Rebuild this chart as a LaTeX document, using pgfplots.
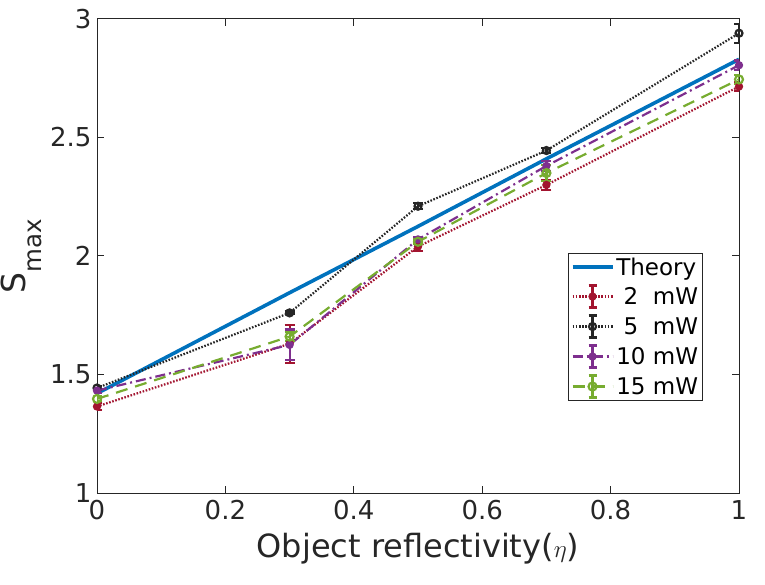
\documentclass[border=0pt]{standalone}
\usepackage{pgfplots}
\pgfplotsset{compat=1.18}
\usepackage{fontspec}
\setmainfont{DejaVu Sans}
\definecolor{cth}{RGB}{0,114,189}
\definecolor{cred}{RGB}{162,20,47}
\definecolor{cblk}{RGB}{38,38,38}
\definecolor{cpur}{RGB}{126,47,142}
\definecolor{cgrn}{RGB}{119,172,48}
\pgfplotsset{lineleg/.style={legend image code/.code={\draw[##1] (0pt,0pt)--(40pt,0pt);}}}
\begin{document}
\begin{tikzpicture}
\begin{axis}[
  at={(97pt,91pt)}, anchor=south west,
  scale only axis, width=642pt, height=474pt,
  xmin=0, xmax=1, ymin=1, ymax=3,
  xtick={0,0.2,...,1}, ytick={1,1.5,...,3},
  xticklabels={0,0.2,0.4,0.6,0.8,1},
  yticklabels={1,1.5,2,2.5,3},
  tick align=inside, tick pos=both,
  major tick length=7pt,
  axis line style={cblk, line width=1pt},
  every tick/.style={cblk, line width=1pt},
  /pgf/number format/assume math mode=true,
  tick label style={font=\fontsize{26}{30}\selectfont, text=cblk},
  xticklabel style={yshift=-4pt},
  yticklabel style={xshift=-2pt},
  xlabel={Object reflectivity($\eta$)},
  ylabel={S\raisebox{-16pt}{\fontsize{24.5}{26}\selectfont max}},
  xlabel style={font=\fontsize{32}{36}\selectfont, text=cblk, yshift=-6pt},
  ylabel style={font=\fontsize{33}{36}\selectfont, text=cblk, yshift=5pt, inner sep=0pt},
  error bars/error bar style={solid, line width=2.2pt},
  error bars/error mark options={solid, rotate=90, mark size=5pt, line width=2.2pt},
  legend style={at={(0.734,0.506)}, anchor=north west, draw=cblk, line width=1pt,
    font=\fontsize{23}{26}\selectfont, inner sep=2pt, row sep=5.8pt,
    legend cell align=left},
  legend image code/.code={
    \draw[mark repeat=2,mark phase=2,#1] plot coordinates {(0pt,0pt)(20pt,0pt)(40pt,0pt)};
    \draw[#1,solid,mark=none,line width=2.2pt] (20pt,-11pt)--(20pt,11pt) (16pt,-11pt)--(24pt,-11pt) (16pt,11pt)--(24pt,11pt);
  },
]
\addplot[cth, line width=3.6pt, lineleg] coordinates {(0,1.42)(0.3,1.845)(0.5,2.125)(0.7,2.41)(1,2.83)};
\addlegendentry{Theory}
\addplot[cred, line width=2.2pt, dash pattern=on 1.6pt off 1.6pt, mark=*, mark size=3pt, mark options={solid},
  error bars/.cd, y dir=both, y explicit] coordinates {
  (0,1.365) +- (0,0.015)
  (0.3,1.63) +- (0,0.08)
  (0.5,2.04) +- (0,0.02)
  (0.7,2.30) +- (0,0.02)
  (1,2.715) +- (0,0.02)};
\addlegendentry{\ 2\ \ mW}
\addplot[cblk, line width=2.2pt, dash pattern=on 1.6pt off 1.6pt, mark=o, mark size=3.5pt, mark options={solid},
  error bars/.cd, y dir=both, y explicit] coordinates {
  (0,1.443) +- (0,0.01)
  (0.3,1.76) +- (0,0.006)
  (0.5,2.21) +- (0,0.012)
  (0.7,2.445) +- (0,0.01)
  (1,2.94) +- (0,0.04)};
\addlegendentry{\ 5\ \ mW}
\addplot[cpur, line width=2.2pt, dash pattern=on 10pt off 4pt on 2pt off 4pt, mark=*, mark size=3pt, mark options={solid},
  error bars/.cd, y dir=both, y explicit] coordinates {
  (0,1.432) +- (0,0.01)
  (0.3,1.625) +- (0,0.065)
  (0.5,2.07) +- (0,0.01)
  (0.7,2.38) +- (0,0.02)
  (1,2.805) +- (0,0.02)};
\addlegendentry{10 mW}
\addplot[cgrn, line width=2.2pt, dash pattern=on 12pt off 8pt, mark=o, mark size=4pt, mark options={solid},
  error bars/.cd, y dir=both, y explicit] coordinates {
  (0,1.397) +- (0,0.01)
  (0.3,1.66) +- (0,0.02)
  (0.5,2.06) +- (0,0.01)
  (0.7,2.35) +- (0,0.035)
  (1,2.745) +- (0,0.02)};
\addlegendentry{15 mW}
\end{axis}
\pgfresetboundingbox
\path (0,0) rectangle (765pt,584pt);
\end{tikzpicture}
\end{document}
